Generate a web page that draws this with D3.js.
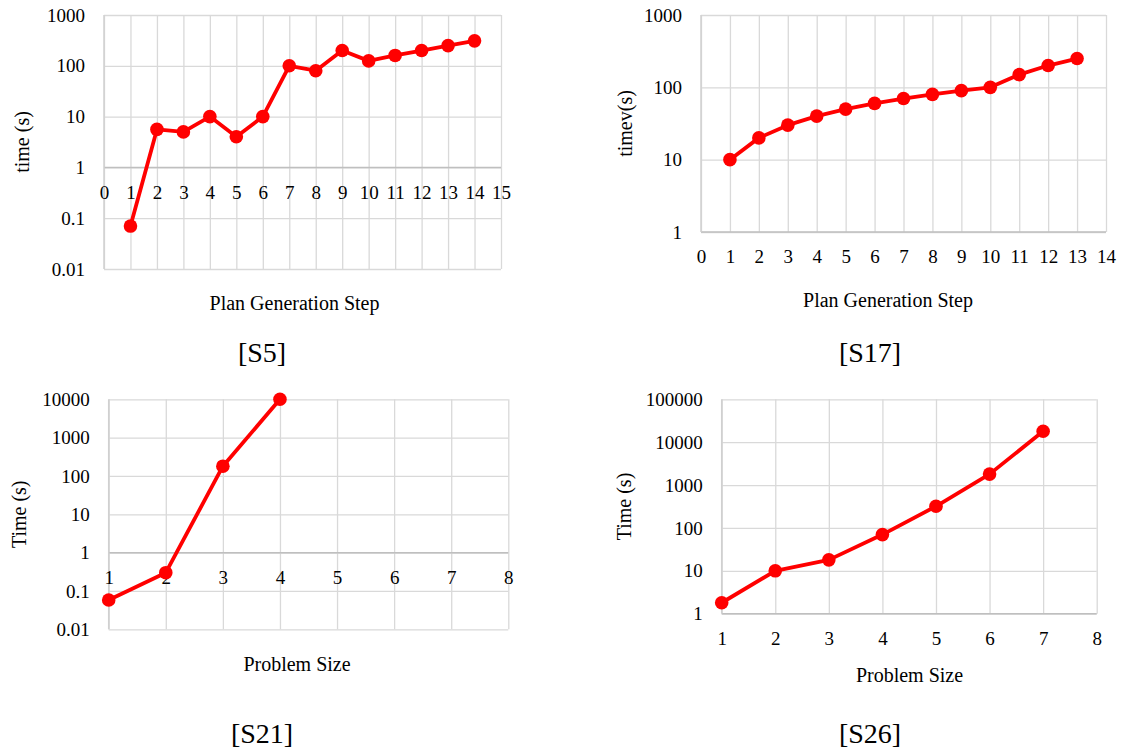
<!DOCTYPE html>
<html>
<head>
<meta charset="utf-8">
<script src="https://cdn.jsdelivr.net/npm/d3@7"></script>
<style>
    body { margin: 0; background: #fff; }
    svg { display: block; }
    svg text { font-family: "Liberation Serif", "Times New Roman", serif; }
    .grid line { stroke: #d9d9d9; stroke-width: 1.3; }
    .grid path { display: none; }
    .tick text { fill: #000; }
</style>
</head>
<body>
<div id="container"></div>
<script>
"use strict";

// [S5]
const S5_STEPS = [1, 2, 3, 4, 5, 6, 7, 8, 9, 10, 11, 12, 13, 14];
const S5_TIMES = [0.07, 5.6, 5, 10, 4, 10, 100, 80, 200, 125, 160, 200, 250, 310];
const S5_X_TICKS = [0, 1, 2, 3, 4, 5, 6, 7, 8, 9, 10, 11, 12, 13, 14, 15];
const S5_Y_TICKS = [0.01, 0.1, 1, 10, 100, 1000];

// [S17]
const S17_STEPS = [1, 2, 3, 4, 5, 6, 7, 8, 9, 10, 11, 12, 13];
const S17_TIMES = [10, 20, 30, 40, 50, 60, 70, 80, 90, 100, 150, 200, 250];
const S17_X_TICKS = [0, 1, 2, 3, 4, 5, 6, 7, 8, 9, 10, 11, 12, 13, 14];
const S17_Y_TICKS = [1, 10, 100, 1000];

// [S21]
const S21_SIZES = [1, 2, 3, 4];
const S21_TIMES = [0.058, 0.3, 180, 10000];
const S21_X_TICKS = [1, 2, 3, 4, 5, 6, 7, 8];
const S21_Y_TICKS = [0.01, 0.1, 1, 10, 100, 1000, 10000];

// [S26]
const S26_SIZES = [1, 2, 3, 4, 5, 6, 7];
const S26_TIMES = [1.8, 10, 18, 70, 320, 1800, 18000];
const S26_X_TICKS = [1, 2, 3, 4, 5, 6, 7, 8];
const S26_Y_TICKS = [1, 10, 100, 1000, 10000, 100000];

const WIDTH = 1141;
const HEIGHT = 755;
const RED = "#ff0000";
const SERIF = '"Liberation Serif", "Times New Roman", serif';

const SVG = d3.select("div#container").append("svg")
    .attr("width", WIDTH)
    .attr("height", HEIGHT);

const PANELS = [
    {
        xs: S5_STEPS, ys: S5_TIMES, xTicks: S5_X_TICKS, yTicks: S5_Y_TICKS,
        box: [104, 501, 15, 269], xAxisAt: 1,
        yTitle: "time (s)", yTitleX: 22,
        xTitle: "Plan Generation Step", xTitlePos: [294.5, 303],
        caption: "[S5]", captionPos: [262, 352]
    },
    {
        xs: S17_STEPS, ys: S17_TIMES, xTicks: S17_X_TICKS, yTicks: S17_Y_TICKS,
        box: [701, 1106, 15, 232], xAxisAt: 1,
        yTitle: "timev(s)", yTitleX: 625,
        xTitle: "Plan Generation Step", xTitlePos: [888, 300],
        caption: "[S17]", captionPos: [870, 352]
    },
    {
        xs: S21_SIZES, ys: S21_TIMES, xTicks: S21_X_TICKS, yTicks: S21_Y_TICKS,
        box: [108.7, 508.3, 399.3, 629.3], xAxisAt: 1,
        yTitle: "Time (s)", yTitleX: 19,
        xTitle: "Problem Size", xTitlePos: [297, 664],
        caption: "[S21]", captionPos: [262, 733]
    },
    {
        xs: S26_SIZES, ys: S26_TIMES, xTicks: S26_X_TICKS, yTicks: S26_Y_TICKS,
        box: [721.7, 1096.7, 399.3, 613.7], xAxisAt: 1,
        yTitle: "Time (s)", yTitleX: 624,
        xTitle: "Problem Size", xTitlePos: [909.5, 675],
        caption: "[S26]", captionPos: [870, 733]
    }
];

document.addEventListener("DOMContentLoaded", init);

function init() {
    PANELS.forEach(drawPanel);
}

// d3 axes put their own sans-serif font on the group; override it on the labels
function serifTicks(sel) {
    sel.attr("font-family", SERIF).attr("font-size", 19);
    sel.selectAll("text")
        .style("font-family", SERIF)
        .style("font-size", "19px");
}

function drawPanel(p) {
    const [x0, x1, y0, y1] = p.box;

    const xScale = d3.scaleLinear()
        .domain(d3.extent(p.xTicks))
        .range([x0, x1]);

    const yScale = d3.scaleLog()
        .domain(d3.extent(p.yTicks))
        .range([y1, y0]);

    const g = SVG.append("g");

    // horizontal grid + y labels
    g.append("g")
        .attr("class", "grid")
        .attr("transform", `translate(${x0}, 0)`)
        .call(d3.axisLeft(yScale)
            .tickValues(p.yTicks)
            .tickFormat(d => d)
            .tickSize(-(x1 - x0))
            .tickPadding(19))
        .call(serifTicks);

    // vertical grid
    g.append("g")
        .attr("class", "grid")
        .attr("transform", `translate(0, ${y1})`)
        .call(d3.axisBottom(xScale)
            .tickValues(p.xTicks)
            .tickFormat("")
            .tickSize(-(y1 - y0)));

    // x axis line where it crosses the value axis
    const axisY = yScale(p.xAxisAt);
    g.append("line")
        .attr("x1", x0).attr("x2", x1)
        .attr("y1", axisY).attr("y2", axisY)
        .attr("stroke", "#bfbfbf")
        .attr("stroke-width", 1.5);

    g.append("line")
        .attr("x1", x0).attr("x2", x0)
        .attr("y1", y0).attr("y2", y1)
        .attr("stroke", "#d0d0d0")
        .attr("stroke-width", 1.5);

    g.append("g")
        .attr("transform", `translate(0, ${axisY})`)
        .call(d3.axisBottom(xScale)
            .tickValues(p.xTicks)
            .tickFormat(d => d)
            .tickSize(0)
            .tickPadding(18))
        .call(sel => sel.select(".domain").remove())
        .call(serifTicks);

    const points = p.xs.map((x, i) => ({ x: x, y: p.ys[i] }));

    const line = d3.line()
        .x(d => xScale(d.x))
        .y(d => yScale(d.y));

    g.append("path")
        .attr("d", line(points))
        .attr("fill", "none")
        .attr("stroke", RED)
        .attr("stroke-width", 3.8)
        .attr("stroke-linejoin", "round");

    g.selectAll("circle.pt")
        .data(points)
        .join("circle")
        .attr("class", "pt")
        .attr("cx", d => xScale(d.x))
        .attr("cy", d => yScale(d.y))
        .attr("r", 6.8)
        .attr("fill", RED);

    g.append("text")
        .attr("transform", `translate(${p.yTitleX}, ${(y0 + y1) / 2}) rotate(-90)`)
        .attr("text-anchor", "middle")
        .attr("dy", "0.35em")
        .style("font-size", "20px")
        .text(p.yTitle);

    g.append("text")
        .attr("x", p.xTitlePos[0])
        .attr("y", p.xTitlePos[1])
        .attr("text-anchor", "middle")
        .attr("dy", "0.35em")
        .style("font-size", "20px")
        .text(p.xTitle);

    g.append("text")
        .attr("x", p.captionPos[0])
        .attr("y", p.captionPos[1])
        .attr("text-anchor", "middle")
        .attr("dy", "0.35em")
        .style("font-size", "28px")
        .text(p.caption);
}
</script>
</body>
</html>
